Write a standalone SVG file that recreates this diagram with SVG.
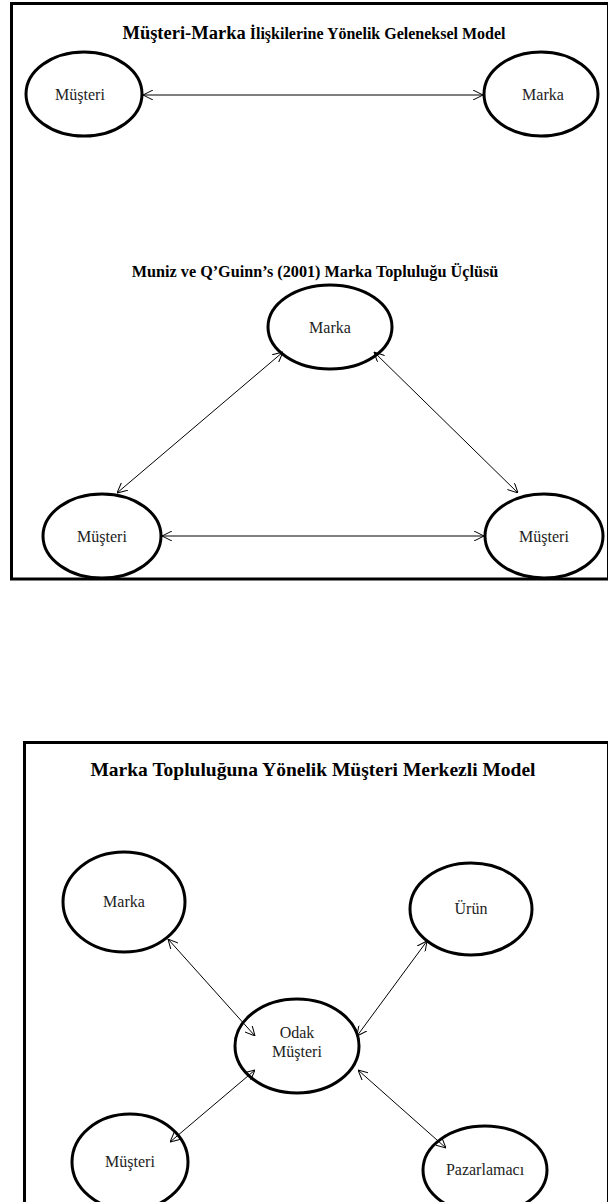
<svg xmlns="http://www.w3.org/2000/svg" width="608" height="1202" viewBox="0 0 608 1202">
<defs>
<marker id="ah" viewBox="0 0 10 10" refX="10" refY="5" markerWidth="10" markerHeight="10" markerUnits="userSpaceOnUse" orient="auto-start-reverse">
<path d="M0,0 L10,5 L0,10" fill="none" stroke="#000" stroke-width="1"/>
</marker>
</defs>
<style>
.frame{fill:none;stroke:#000;stroke-width:3}
.node{fill:#fff;stroke:#000;stroke-width:3}
.lbl{font-family:"Liberation Serif","Times New Roman",serif;font-size:16px;fill:#222;text-anchor:middle}
.ttl{font-family:"Liberation Serif","Times New Roman",serif;font-weight:bold;fill:#000;text-anchor:middle}
.conn line{stroke:#000;stroke-width:1;marker-start:url(#ah);marker-end:url(#ah)}
</style>
<rect width="608" height="1202" fill="#fff"/>
<rect class="frame" x="11.5" y="3.5" width="597" height="575.5"/>
<rect class="frame" x="24.5" y="742.5" width="584" height="470"/>
<text class="ttl" x="314" y="39"><tspan font-size="18.5">Müşteri-Marka</tspan><tspan font-size="16"> İlişkilerine Yönelik Geleneksel  Model</tspan></text>
<text class="ttl" x="315" y="277" font-size="16.2">Muniz ve Q’Guinn’s  (2001) Marka  Topluluğu Üçlüsü</text>
<text class="ttl" x="313" y="776" font-size="19.5">Marka Topluluğuna Yönelik Müşteri Merkezli  Model</text>
<g id="n1"><ellipse class="node" cx="84" cy="94" rx="58" ry="42"/><text class="lbl" x="80" y="100">Müşteri</text></g>
<g id="n2"><ellipse class="node" cx="541" cy="94" rx="57" ry="42"/><text class="lbl" x="543" y="100">Marka</text></g>
<g id="n3"><ellipse class="node" cx="330" cy="327" rx="62" ry="42"/><text class="lbl" x="330" y="333">Marka</text></g>
<g id="n4"><ellipse class="node" cx="102" cy="536" rx="59" ry="42"/><text class="lbl" x="102" y="542">Müşteri</text></g>
<g id="n5"><ellipse class="node" cx="544" cy="536" rx="59" ry="42"/><text class="lbl" x="544" y="542">Müşteri</text></g>
<g id="n6"><ellipse class="node" cx="124" cy="902" rx="61" ry="50"/><text class="lbl" x="124" y="907">Marka</text></g>
<g id="n7"><ellipse class="node" cx="471" cy="909" rx="61" ry="46"/><text class="lbl" x="471" y="914">Ürün</text></g>
<g id="n8"><ellipse class="node" cx="297" cy="1046" rx="62" ry="47"/><text class="lbl" x="297" y="1038">Odak</text><text class="lbl" x="297" y="1057">Müşteri</text></g>
<g id="n9"><ellipse class="node" cx="130" cy="1162" rx="58" ry="48"/><text class="lbl" x="130" y="1167">Müşteri</text></g>
<g id="n10"><ellipse class="node" cx="485" cy="1170" rx="62" ry="44"/><text class="lbl" x="485" y="1175">Pazarlamacı</text></g>
<g class="conn">
<line x1="143" y1="95" x2="483" y2="95"/>
<line x1="283" y1="352" x2="117" y2="493"/>
<line x1="374" y1="352" x2="518" y2="493"/>
<line x1="162" y1="536" x2="484" y2="536"/>
<line x1="168" y1="939" x2="255" y2="1036"/>
<line x1="427" y1="941" x2="357" y2="1036"/>
<line x1="255" y1="1070" x2="170" y2="1142"/>
<line x1="358" y1="1070" x2="446" y2="1148"/>
</g>
</svg>
